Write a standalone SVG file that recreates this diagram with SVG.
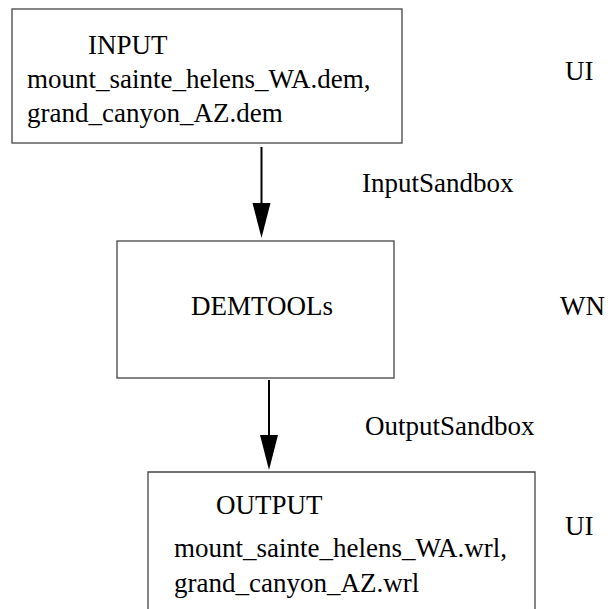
<svg xmlns="http://www.w3.org/2000/svg" width="611" height="609" viewBox="0 0 611 609" font-family="'Liberation Serif', 'Times New Roman', Times, serif" font-size="27">
<style>
text{font-family:'Liberation Serif','Times New Roman',Times,serif;font-size:27px;fill:#000}
.box{fill:#fff;stroke:#444;stroke-width:1.3}
.edge{stroke:#000;stroke-width:2;fill:none}
.head{fill:#000}
</style>
<rect width="611" height="609" fill="#fff"/>
<g id="input">
<rect class="box" x="12" y="9" width="390" height="134"/>
<text x="88" y="54">INPUT</text>
<text x="27" y="88">mount_sainte_helens_WA.dem,</text>
<text x="27" y="122">grand_canyon_AZ.dem</text>
</g>
<g id="demtools">
<rect class="box" x="117" y="241" width="277" height="137"/>
<text x="191" y="315">DEMTOOLs</text>
</g>
<g id="output">
<path class="box" d="M148,609 V472 H535 V609"/>
<text x="216" y="514">OUTPUT</text>
<text x="174" y="557">mount_sainte_helens_WA.wrl,</text>
<text x="174" y="592">grand_canyon_AZ.wrl</text>
</g>
<g id="labels">
<text x="565" y="80">UI</text>
<text x="560" y="315">WN</text>
<text x="565" y="535">UI</text>
</g>
<g id="connectors">
<line class="edge" x1="261.5" y1="147" x2="261.5" y2="205"/>
<polygon class="head" points="252.5,203 270.5,203 261.5,238"/>
<text x="362" y="192">InputSandbox</text>
<line class="edge" x1="269" y1="380" x2="269" y2="437"/>
<polygon class="head" points="260,435 278,435 269,470"/>
<text x="365" y="435">OutputSandbox</text>
</g>
</svg>
